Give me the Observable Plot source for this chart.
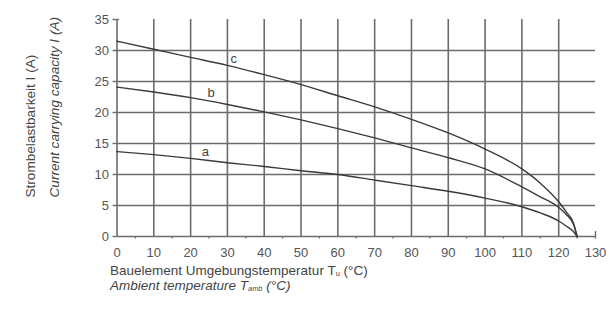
<!DOCTYPE html>
<html>
<head>
<meta charset="utf-8">
<script src="https://cdn.jsdelivr.net/npm/d3@7"></script>
<script src="https://cdn.jsdelivr.net/npm/@observablehq/plot@0.6"></script>
<style>
  html, body { margin: 0; padding: 0; background: #fff; }
  #wrap { position: relative; width: 613px; height: 320px; overflow: hidden; }
  .xl { position: absolute; left: 110px; white-space: nowrap; color: #444; line-height: 12px; height: 12px; }
  .xl sub { font-size: 0.55em; vertical-align: -0.2em; line-height: 0; }
</style>
</head>
<body>
<div id="wrap">
  <div id="chart"></div>
  <div class="xl" id="xl1">Bauelement Umgebungstemperatur T<sub>u</sub> (°C)</div>
  <div class="xl" id="xl2" style="font-style:italic">Ambient temperature T<sub>amb</sub> (°C)</div>
</div>
<script>
// ---- data ----
const temps  = [0, 10, 20, 30, 40, 50, 60, 70, 80, 90, 100, 110, 115, 120, 122, 124, 125];
const curveA = [13.7, 13.2, 12.6, 11.9, 11.3, 10.6, 10.0, 9.1, 8.2, 7.3, 6.2, 4.8, 3.8, 2.5, 1.7, 0.8, 0];
const curveB = [24.1, 23.3, 22.4, 21.3, 20.1, 18.8, 17.4, 15.9, 14.3, 12.7, 10.9, 8.0, 6.4, 4.7, 3.6, 2.0, 0];
const curveC = [31.5, 30.2, 28.9, 27.6, 26.1, 24.5, 22.7, 20.9, 18.9, 16.7, 14.1, 10.9, 8.6, 5.6, 4.0, 2.2, 0];
const curveNames  = ["a", "b", "c"];
const labelTemps  = [24, 25.6, 31.7];
const labelValues = [13.6, 23.1, 28.7];
const xTicks = [0, 10, 20, 30, 40, 50, 60, 70, 80, 90, 100, 110, 120, 130];
const yTicks = [0, 5, 10, 15, 20, 25, 30, 35];
const xGrid  = [10, 20, 30, 40, 50, 60, 70, 80, 90, 100, 110, 120];
const yGrid  = [5, 10, 15, 20, 25, 30];
const xMinor = [5, 15, 25, 35, 45, 55, 65, 75, 85, 95, 105, 115, 125];
const yLabel1 = "Strombelastbarkeit I (A)";
const yLabel2 = "Current carrying capacity I (A)";

const FONT = '"Liberation Sans", Arial, sans-serif';
const labelSize = 13.6, xLabelSize = 13.5, tickFont = 13;

const series = [curveA, curveB, curveC];
const rows = [];
series.forEach((vals, si) => temps.forEach((t, i) => rows.push({curve: curveNames[si], t, v: vals[i]})));
const labels = curveNames.map((n, i) => ({n, t: labelTemps[i], v: labelValues[i]}));

const GRID = "#6b6b6b", INK = "#3a3a3a", TXT = "#555";

const chart = Plot.plot({
  width: 613, height: 262,
  marginLeft: 116.5, marginRight: 18, marginTop: 19, marginBottom: 26,
  x: {domain: [0, 130]},
  y: {domain: [0, 35]},
  style: {fontFamily: FONT, fontSize: tickFont + "px", color: TXT, background: "#fff", overflow: "visible"},
  marks: [
    Plot.ruleY(yGrid, {x1: 0, x2: 130, stroke: GRID, strokeWidth: 1.6}),
    Plot.ruleX(xGrid, {y1: 0, y2: 35, stroke: GRID, strokeWidth: 1.6}),
    Plot.ruleX([0], {y1: 0, y2: 35, stroke: GRID, strokeWidth: 1.6}),
    Plot.ruleY([0], {x1: 0, x2: 130, stroke: GRID, strokeWidth: 1.6}),
    Plot.ruleX(xMinor, {y1: 0, y2: -0.4, stroke: GRID, strokeWidth: 1.2}),
    Plot.ruleX([130], {y1: -0.4, y2: 0.8, stroke: GRID, strokeWidth: 1.4}),
    Plot.ruleY([35], {x1: 0, x2: 0.7, stroke: GRID, strokeWidth: 1.4}),
    Plot.axisY(yTicks, {tickSize: 4, tickPadding: 4, stroke: GRID, strokeWidth: 1.4, strokeOpacity: 1, fill: TXT, label: null}),
    Plot.axisX(xTicks, {tickSize: 0, tickPadding: 11, fill: TXT, label: null}),
    Plot.line(rows, {x: "t", y: "v", z: "curve", curve: "monotone-x", stroke: INK, strokeWidth: 1.4}),
    Plot.text(labels, {x: "t", y: "v", text: "n", fill: "#444", fontSize: 13}),
    Plot.text([yLabel1], {frameAnchor: "bottom-left", text: d => d, rotate: -90, textAnchor: "start", lineAnchor: "bottom",
      dx: -82, dy: -39, fontSize: labelSize, fill: "#444"}),
    Plot.text([yLabel2], {frameAnchor: "bottom-left", text: d => d, rotate: -90, textAnchor: "start", lineAnchor: "bottom",
      dx: -58, dy: -39, fontSize: labelSize, fill: "#444", fontStyle: "italic"})
  ]
});
document.getElementById("chart").appendChild(chart);

const xl1 = document.getElementById("xl1"), xl2 = document.getElementById("xl2");
for (const el of [xl1, xl2]) { el.style.fontFamily = FONT; el.style.fontSize = xLabelSize + "px"; }
xl1.style.top = "264.5px";
xl2.style.top = "280px";
</script>
</body>
</html>
